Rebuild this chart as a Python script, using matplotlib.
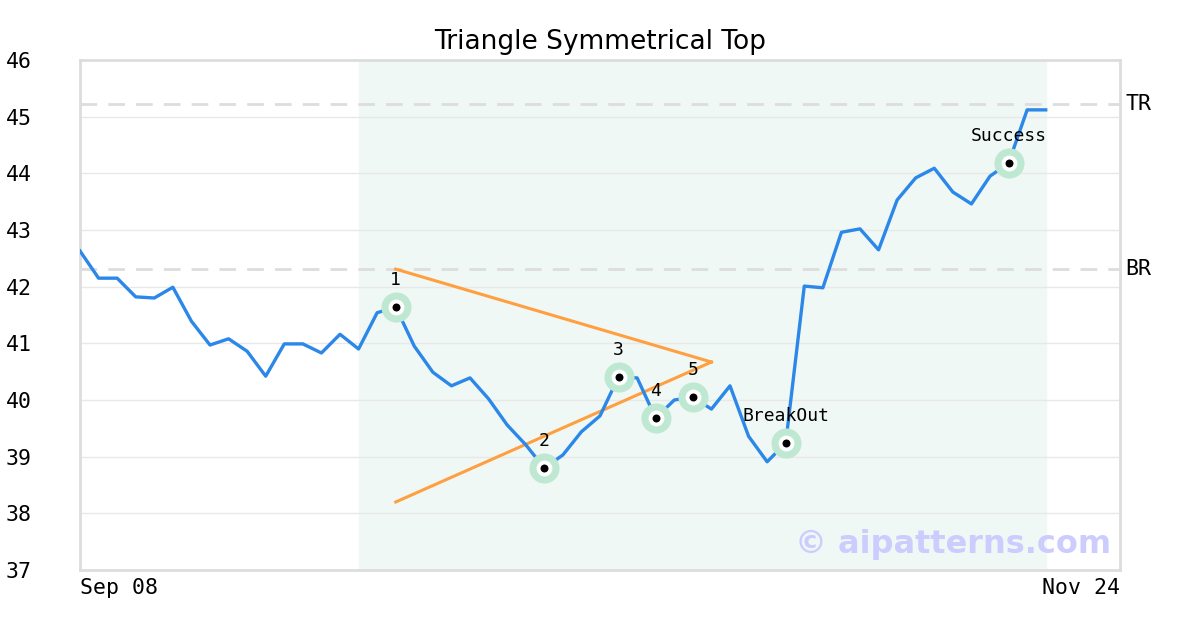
import numpy as np
import matplotlib.pyplot as plt

prices = [42.63, 42.15, 42.15, 41.82, 41.80, 41.99, 41.39, 40.97, 41.08, 40.86,
          40.42, 40.99, 40.99, 40.83, 41.16, 40.90, 41.54, 41.64, 40.95, 40.49,
          40.25, 40.39, 40.02, 39.56, 39.21, 38.80, 39.03, 39.44, 39.72, 40.41,
          40.39, 39.68, 40.00, 40.05, 39.84, 40.25, 39.36, 38.91, 39.24, 42.01,
          41.98, 42.96, 43.02, 42.65, 43.53, 43.92, 44.09, 43.67, 43.46, 43.95,
          44.18, 45.12, 45.12]
x_labels = ['Sep 08', 'Nov 24']
x_label_pos = [0, 56]

pattern_start, pattern_end = 15, 52
top_line_x = [17, 34]
top_line_y = [42.31, 40.67]
bottom_line_x = [17, 34]
bottom_line_y = [38.20, 40.67]

pivot_idx = [17, 25, 29, 31, 33, 38, 50]
pivot_text = ['1', '2', '3', '4', '5', 'BreakOut', 'Success']

levels = {'TR': 45.22, 'BR': 42.31}

mono = 'DejaVu Sans Mono'
blue = '#2b87e8'
orange = '#ff9f40'

fig = plt.figure(figsize=(12, 6.3), dpi=100)
ax = fig.add_axes([80 / 1200, 1 - 570 / 630, 1040 / 1200, 510 / 630])

xs = np.arange(len(prices))
ax.axvspan(pattern_start, pattern_end, color='#f0f8f5', zorder=0)

for name, lv in levels.items():
    ax.axhline(lv, color='#dddddd', lw=2, ls=(0, (6, 4)), zorder=1)
    ax.text(56.3, lv, name, family=mono, fontsize=15.5, va='center', ha='left',
            clip_on=False)

ax.plot(xs, prices, color=blue, lw=2.4, zorder=3)
ax.plot(top_line_x, top_line_y, color=orange, lw=2.2, zorder=2)
ax.plot(bottom_line_x, bottom_line_y, color=orange, lw=2.2, zorder=2)

px = [xs[i] for i in pivot_idx]
py = [prices[i] for i in pivot_idx]
ax.scatter(px, py, s=470, color='#bfe8d3', zorder=4, linewidths=0)
ax.scatter(px, py, s=130, color='white', zorder=5, linewidths=0)
ax.scatter(px, py, s=33, color='black', zorder=6, linewidths=0)
for xi, yi, t in zip(px, py, pivot_text):
    ax.annotate(t, (xi, yi), xytext=(0, 13), textcoords='offset points',
                ha='center', va='bottom', family=mono, fontsize=13, zorder=7)

ax.text(0.991, 0.02, '© aipatterns.com', transform=ax.transAxes, ha='right',
        va='bottom', fontsize=23, fontweight='bold', color='#ccccff', zorder=8)

ax.set_xlim(0, 56)
ax.set_ylim(37, 46)
ax.set_yticks(range(37, 47))
ax.grid(axis='y', color='#e8e8e8', lw=1)
ax.set_axisbelow(True)
ax.set_xticks(x_label_pos)
ax.set_xticklabels(x_labels, family=mono, fontsize=15.5)
ax.get_xticklabels()[0].set_ha('left')
ax.get_xticklabels()[1].set_ha('right')
for lab in ax.get_yticklabels():
    lab.set_family(mono)
    lab.set_fontsize(15.5)
ax.tick_params(length=0)
ax.tick_params(axis='y', pad=35)
ax.tick_params(axis='x', pad=6)
for s in ax.spines.values():
    s.set_color('#dddddd')
    s.set_linewidth(2)

ax.set_title('Triangle Symmetrical Top', fontsize=19, pad=8)

fig.savefig('out.png', dpi=100)
